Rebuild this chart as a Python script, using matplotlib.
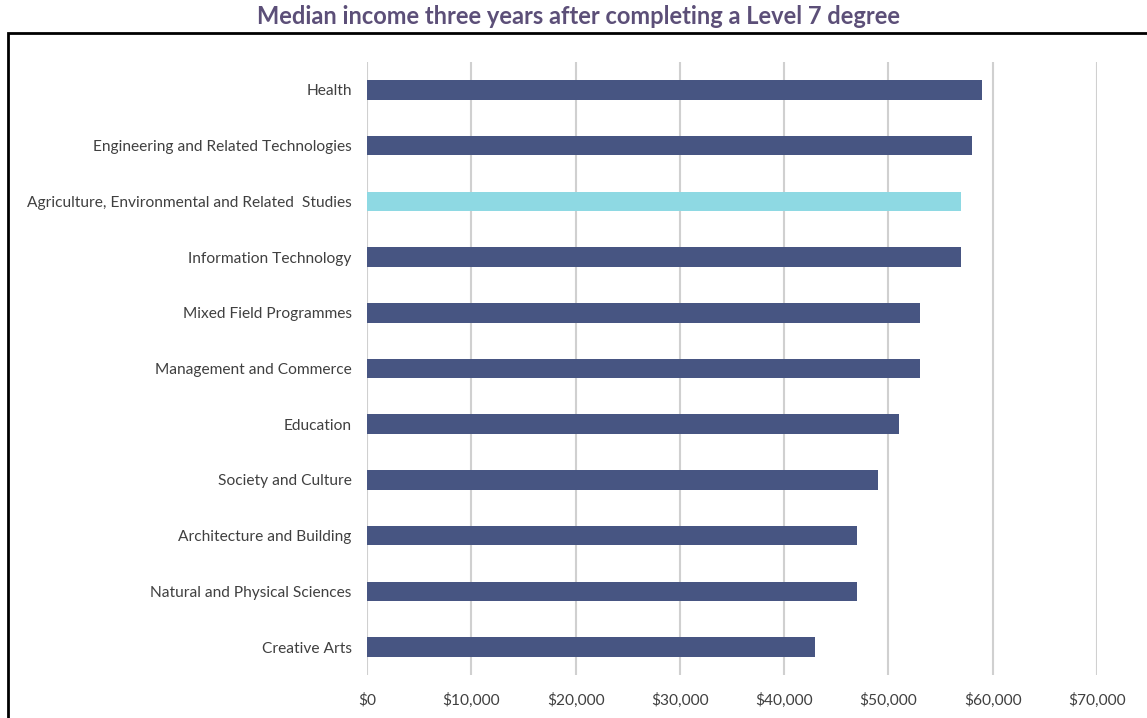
import matplotlib.pyplot as plt
from matplotlib.patches import Rectangle
from matplotlib.ticker import FuncFormatter

categories = [
    "Health",
    "Engineering and Related Technologies",
    "Agriculture, Environmental and Related  Studies",
    "Information Technology",
    "Mixed Field Programmes",
    "Management and Commerce",
    "Education",
    "Society and Culture",
    "Architecture and Building",
    "Natural and Physical Sciences",
    "Creative Arts",
]
income = [59000, 58000, 57000, 57000, 53000, 53000, 51000, 49000, 47000, 47000, 43000]
highlight = "Agriculture, Environmental and Related  Studies"
x_ticks = [0, 10000, 20000, 30000, 40000, 50000, 60000, 70000]

plt.rcParams['font.family'] = ['Lato', 'DejaVu Sans']

fig = plt.figure(figsize=(11.47, 7.18), dpi=100)
ax = fig.add_axes([0.32, 0.0599, 0.6364, 0.8537])

colors = ['#8ed9e3' if c == highlight else '#475582' for c in categories]
pos = list(range(len(categories)))[::-1]
ax.barh(pos, income, height=0.35, color=colors, zorder=3)

ax.set_xlim(0, 70000)
ax.set_ylim(-0.5, len(categories) - 0.5)
ax.set_xticks(x_ticks)
ax.xaxis.set_major_formatter(FuncFormatter(lambda v, p: '${:,.0f}'.format(v)))
ax.set_yticks(pos)
ax.set_yticklabels(categories)
ax.grid(axis='x', color='#d0d0d0', linewidth=1.5, zorder=0)
ax.tick_params(axis='both', length=0, labelsize=11.2, colors='#404040')
ax.tick_params(axis='y', pad=11)
ax.tick_params(axis='x', pad=13)
for s in ax.spines.values():
    s.set_visible(False)

fig.text(0.504, 0.977, "Median income three years after completing a Level 7 degree",
         ha='center', va='center', fontsize=17, fontweight='bold', color='#5c4f78')

# outer frame, runs off the right and bottom edge
fig.patches.append(Rectangle((8 / 1147, -0.05), 1.2, (685 / 718) + 0.05,
                             transform=fig.transFigure, fill=False,
                             edgecolor='black', linewidth=2))

fig.savefig('out.png', dpi=100)
